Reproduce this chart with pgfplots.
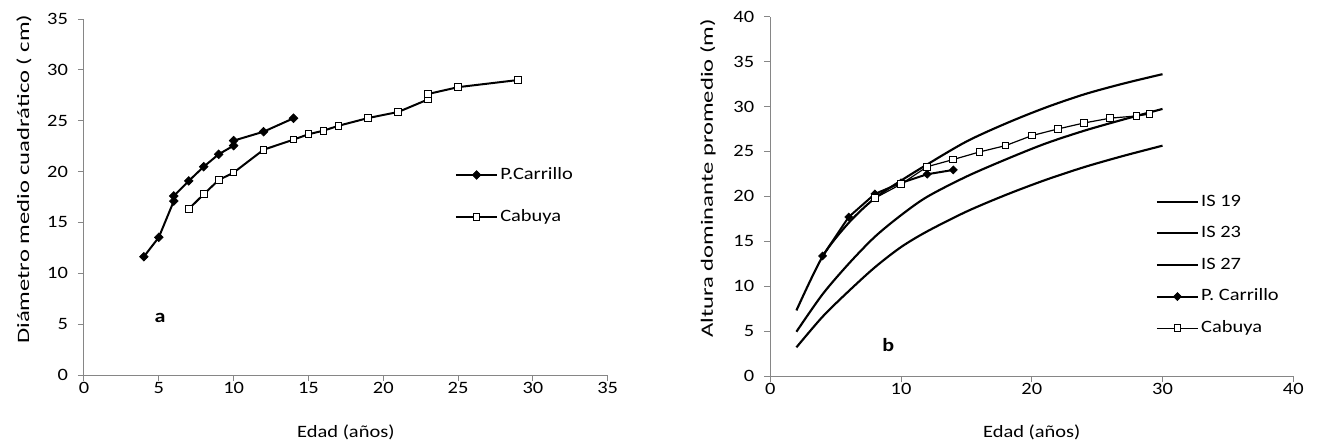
\documentclass[border=0pt]{standalone}
\usepackage{fontspec}
\setmainfont{Carlito}
\usepackage{graphicx}
\usepackage{pgfplots}
\pgfplotsset{compat=1.18}
\definecolor{axgray}{RGB}{134,134,134}
\newcommand{\tf}{\fontsize{13}{15}\selectfont}
\newcommand{\wx}[1]{\scalebox{1.18}[1]{#1}}
\newcommand{\wt}[1]{\scalebox{1.42}[1]{#1}}

\pgfplotsset{
  excel/.style={
    scale only axis, clip=false,
    axis lines=left,
    axis line style={draw=axgray, line width=0.75pt, -},
    tick style={draw=axgray, line width=0.75pt},
    tick align=outside, major tick length=4.5pt,
    tick label style={font=\tf, text=black},
    xticklabel={\wx{\pgfmathprintnumber{\tick}}},
    yticklabel={\wx{\pgfmathprintnumber{\tick}}},
    xticklabel style={yshift=3.5pt},
    yticklabel style={xshift=-3pt},
    /pgf/number format/assume math mode=true,
    legend cell align=left,
    legend style={draw=none, fill=none, inner sep=0pt, font=\tf,
      nodes={inner xsep=1.5pt, inner ysep=0pt, text height=9pt, text depth=2.5pt}},
  },
  leg/.style={legend image code/.code={
      \draw[mark repeat=2,mark phase=2] plot coordinates {(0pt,0pt) (15.5pt,0pt) (31pt,0pt)};}},
  isc/.style={black, line width=1.6pt, smooth, no markers, leg},
  diam/.style={black, line width=1.5pt, mark=square*, leg,
    mark options={rotate=45, fill=black, solid, line width=0.5pt}, mark size=2.3pt},
  sq/.style={black, line width=1.5pt, mark=square*, leg,
    mark options={fill=white, solid, line width=0.75pt}, mark size=2.5pt},
}

\begin{document}
\tf
\begin{tikzpicture}
\useasboundingbox (0,0) rectangle (987.75pt,333pt);

% ---- a: diametro
\begin{axis}[excel,
  at={(63pt,51.75pt)}, anchor=south west,
  width=392.8pt, height=267pt,
  xmin=0, xmax=35, ymin=0, ymax=35,
  xtick={0,5,...,35}, ytick={0,5,...,35},
  xlabel={\wx{Edad (años)}},
  ylabel={\wt{Diámetro medio cuadrático ( cm)}},
  every axis x label/.style={at={(axis description cs:0.5,-0.16)}, anchor=center, font=\tf},
  every axis y label/.style={at={(axis description cs:-0.1146,0.55)}, rotate=90, anchor=center, font=\tf},
  legend style={at={(axis cs:24.77,17.6)}, anchor=west, row sep=20pt},
]
\addplot[diam] coordinates {
  (4,11.63) (5,13.54) (6,17.1) (6,17.6) (7,19.08) (8,20.48) (9,21.7)
  (10,22.55) (10,23.04) (12,23.92) (14,25.24)};
\addlegendentry{\wx{P.Carrillo}}
\addplot[sq] coordinates {
  (7,16.32) (8,17.77) (9,19.17) (10,19.9) (12,22.15) (14,23.14) (15,23.67)
  (16,24.02) (17,24.5) (19,25.27) (21,25.86) (23,27.1) (23,27.63) (25,28.3) (29,29.0)};
\addlegendentry{\wx{Cabuya}}
\node[font=\bfseries\fontsize{14}{16}\selectfont] at (axis cs:5.08,5.6) {\wx{a}};
\end{axis}

% ---- b: altura dominante
\begin{axis}[excel,
  at={(577.7pt,51pt)}, anchor=south west,
  width=392.25pt, height=269.5pt,
  xmin=0, xmax=40, ymin=0, ymax=40,
  xtick={0,10,...,40}, ytick={0,5,...,40},
  xlabel={\wx{Edad (años)}},
  ylabel={\wt{Altura dominante promedio (m)}},
  every axis x label/.style={at={(axis description cs:0.5,-0.156)}, anchor=center, font=\tf},
  every axis y label/.style={at={(axis description cs:-0.119,0.55)}, rotate=90, anchor=center, font=\tf},
  legend style={at={(axis cs:29.46,12.36)}, anchor=west, row sep=12.2pt},
]
\addplot[isc] coordinates {
  (2,3.19) (4,6.6) (6,9.45) (8,12.1) (10,14.35) (12,16.1) (15,18.3)
  (18,20.15) (21,21.8) (24,23.25) (27,24.5) (30,25.64)};
\addlegendentry{\wx{IS 19}}
\addplot[isc] coordinates {
  (2,4.93) (4,9.1) (6,12.5) (8,15.5) (10,17.9) (12,19.95) (15,22.2)
  (18,24.1) (21,25.85) (24,27.3) (27,28.55) (30,29.73)};
\addlegendentry{\wx{IS 23}}
\addplot[isc] coordinates {
  (2,7.3) (4,13.3) (6,17.05) (8,19.8) (10,21.75) (12,23.55) (15,26.1)
  (18,28.1) (21,29.85) (24,31.35) (27,32.55) (30,33.6)};
\addlegendentry{\wx{IS 27}}
\addplot[diam, mark size=2.1pt] coordinates {
  (4,13.36) (6,17.7) (8,20.27) (10,21.5) (12,22.46) (14,22.94)};
\addlegendentry{\wx{P. Carrillo}}
\addplot[sq, line width=0.9pt] coordinates {
  (8,19.8) (10,21.35) (12,23.3) (14,24.1) (16,24.94) (18,25.65) (20,26.76)
  (22,27.5) (24,28.17) (26,28.7) (28,28.95) (29,29.14)};
\addlegendentry{\wx{Cabuya}}
\node[font=\bfseries\fontsize{14}{16}\selectfont] at (axis cs:9.02,3.45) {\wx{b}};
\end{axis}
\end{tikzpicture}
\end{document}
